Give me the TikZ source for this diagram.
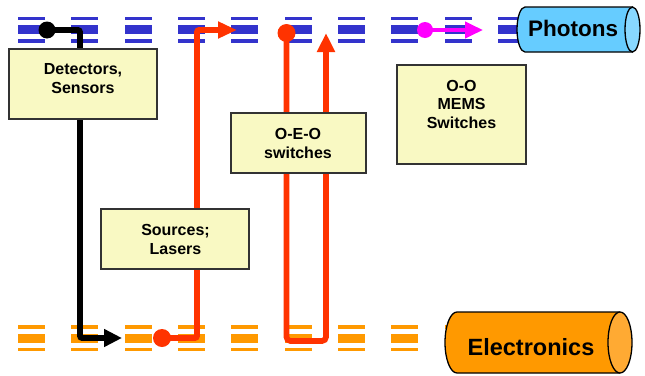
\documentclass[tikz,border=0pt]{standalone}
\usepackage{fontspec}
\setmainfont{Liberation Sans}
\usetikzlibrary{arrows.meta}
\pgfdeclarelayer{bars}
\pgfdeclarelayer{lines}
\pgfsetlayers{bars,lines,main}
\definecolor{barblue}{HTML}{3333CC}
\definecolor{barorange}{HTML}{FF9900}
\definecolor{linered}{HTML}{FF3300}
\definecolor{linemag}{HTML}{FF00FF}
\definecolor{boxfill}{HTML}{F9F9C3}
\definecolor{boxline}{HTML}{333333}
\definecolor{photbody}{HTML}{66CCFF}
\definecolor{photend}{HTML}{88D8FF}
\definecolor{elecbody}{HTML}{FF9900}
\definecolor{elecend}{HTML}{FFAA33}
\begin{document}
\begin{tikzpicture}[x=1pt,y=-1pt,
  box/.style={draw=boxline, line width=1.2pt, fill=boxfill, inner sep=0pt},
  lbl/.style={font=\fontsize{16}{18.5}\selectfont\bfseries, align=center, inner sep=0pt},
  conn/.style={line width=5.7pt, rounded corners=2pt},
  dotnode/.style={circle, inner sep=0pt, draw=none}
]
\useasboundingbox (0,0) rectangle (645,375);

% stripe groups
\begin{pgfonlayer}{bars}
\foreach \k in {0,...,9}{
  \pgfmathsetmacro{\xa}{18+53.33*\k}
  \pgfmathsetmacro{\xb}{\xa+27}
  \fill[barblue] (\xa,16.7) rectangle (\xb,20.2);
  \fill[barblue] (\xa,25.2) rectangle (\xb,34.2);
  \fill[barblue] (\xa,39.2) rectangle (\xb,42.7);
}
\foreach \k in {0,...,8}{
  \pgfmathsetmacro{\xa}{18+53.33*\k}
  \pgfmathsetmacro{\xb}{\xa+27}
  \fill[barorange] (\xa,325) rectangle (\xb,329);
  \fill[barorange] (\xa,334) rectangle (\xb,343);
  \fill[barorange] (\xa,347.5) rectangle (\xb,351);
}
\end{pgfonlayer}

% boxes
\node[box, minimum width=148pt, minimum height=70pt] (det) at (83,84) {};
\node[lbl] (detlbl) at (83,78.5) {Detectors,\\Sensors};
\node[box, minimum width=135pt, minimum height=60pt] (oeo) at (298.5,143) {};
\node[lbl] (oeolbl) at (298,143.5) {O-E-O\\switches};
\node[box, minimum width=129pt, minimum height=99pt] (mems) at (461.5,114.5) {};
\node[lbl] (memslbl) at (461.5,104) {O-O\\MEMS\\Switches};
\node[box, minimum width=148pt, minimum height=60pt] (src) at (175,239) {};
\node[lbl] (srclbl) at (175.5,239.5) {Sources;\\Lasers};

% connectors
\begin{pgfonlayer}{lines}
\node[dotnode, fill=black, minimum size=17pt] (bdot) at (47,30) {};
\coordinate (b1) at (80,30);
\coordinate (b2) at (80,338);
\coordinate (btip) at (122,338);
\draw[conn, black, -{Triangle[length=18pt,width=17pt]}] (bdot.center) -- (b1) -- (b2) -- (btip);

\node[dotnode, fill=linered, minimum size=18pt] (rdot1) at (162,338) {};
\coordinate (r1a) at (197,338);
\coordinate (r1b) at (197,30);
\coordinate (r1tip) at (237,30);
\draw[conn, linered, -{Triangle[length=19pt,width=16pt]}] (rdot1.center) -- (r1a) -- (r1b) -- (r1tip);

\node[dotnode, fill=linered, minimum size=18pt] (rdot2) at (286.5,33) {};
\coordinate (r2a) at (286.5,341);
\coordinate (r2b) at (326,341);
\coordinate (r2tip) at (326,33);
\draw[conn, linered, rounded corners=4pt, -{Triangle[length=19pt,width=17pt]}] (rdot2.center) -- (r2a) -- (r2b) -- (r2tip);

\node[dotnode, fill=linemag, minimum size=16pt] (mdot) at (425,30) {};
\coordinate (mtip) at (483,30);
\draw[line width=4pt, linemag, -{Triangle[length=18pt,width=16pt]}] (mdot.center) -- (mtip);
\end{pgfonlayer}

% Photons cylinder
\filldraw[fill=photbody, draw=black, line width=1.3pt]
  (632.5,7) -- (525,7) arc[start angle=90, end angle=270, x radius=8pt, y radius=22.5pt]
  -- (632.5,52);
\filldraw[fill=photend, draw=black, line width=1.3pt] (632.5,29.5) ellipse[x radius=7.5pt, y radius=22.5pt];
\node[font=\fontsize{22.5}{26}\selectfont\bfseries, inner sep=0pt] (photons) at (573,28) {Photons};

% Electronics cylinder
\filldraw[fill=elecbody, draw=black, line width=1.3pt]
  (620,312) -- (457,312) arc[start angle=90, end angle=270, x radius=12pt, y radius=30.5pt]
  -- (620,373);
\filldraw[fill=elecend, draw=black, line width=1.3pt] (620,342.5) ellipse[x radius=12pt, y radius=30.5pt];
\node[font=\fontsize{23.5}{27}\selectfont\bfseries, inner sep=0pt] (electronics) at (531,347) {Electronics};
\end{tikzpicture}
\end{document}
